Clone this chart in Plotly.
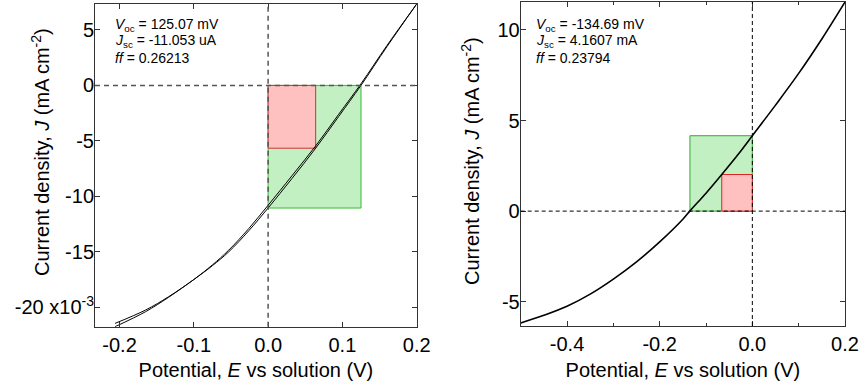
import plotly.graph_objects as go

# ---- Left panel data (potential V, current density mA cm^-2, shown as x10^-3 A) ----
left_E = [-0.206, -0.165, -0.134, -0.100, -0.075, -0.053, -0.026, 0.000, 0.032, 0.064, 0.095, 0.125, 0.160, 0.200]
left_J_scan1 = [-21.75, -20.40, -19.10, -17.50, -16.25, -15.00, -13.10, -11.05, -8.40, -5.66, -2.80, 0.00, 3.50, 7.34]
left_J_scan2 = [-21.45, -20.25, -19.05, -17.50, -16.18, -14.85, -12.90, -10.80, -8.15, -5.45, -2.60, 0.15, 3.60, 7.34]
left_Voc = 0.12507
left_Jsc = -11.053
left_Vmp = 0.064
left_Jmp = -5.66

# ---- Right panel data ----
right_E = [-0.500, -0.450, -0.400, -0.350, -0.300, -0.250, -0.200, -0.150, -0.135, -0.100, -0.066, -0.030, 0.000, 0.050, 0.100, 0.150, 0.200]
right_J = [-6.17, -5.75, -5.25, -4.58, -3.75, -2.80, -1.70, -0.45, 0.00, 0.99, 2.02, 3.15, 4.16, 5.85, 7.60, 9.50, 11.54]
right_Voc = -0.13469
right_Jsc = 4.1607
right_Vmp = -0.066
right_Jmp = 2.02

left_ytickvals = [5, 0, -5, -10, -15, -20]
left_yticktext = ["5", "0", "-5", "-10", "-15", "-20 x10<sup>-3</sup>"]
left_xtickvals = [-0.2, -0.1, 0.0, 0.1, 0.2]
left_xticktext = ["-0.2", "-0.1", "0.0", "0.1", "0.2"]
right_xtickvals = [-0.4, -0.2, 0.0, 0.2]
right_xticktext = ["-0.4", "-0.2", "0.0", "0.2"]
right_ytickvals = [10, 5, 0, -5]
right_yticktext = ["10", "5", "0", "-5"]

left_text = ["<i>V</i><sub>oc</sub> = 125.07 mV", "<i>J</i><sub>sc</sub> = -11.053 uA", "<i>ff</i> = 0.26213"]
right_text = ["<i>V</i><sub>oc</sub> = -134.69 mV", "<i>J</i><sub>sc</sub> = 4.1607 mA", "<i>ff</i> = 0.23794"]

xtitle = "Potential, <i>E</i> vs solution (V)"
ytitle = "Current density, <i>J</i> (mA cm<sup>-2</sup>)"

W, H = 860, 389
ML, MR, MT, MB = 95, 15, 1, 62
PW, PH = W - ML - MR, H - MT - MB
FONT = "Liberation Sans, Arial, sans-serif"
AX = "#333333"

def dx(p):  # page pixel x -> plot-area fraction
    return (p - ML) / PW

def dy(p):  # page pixel y -> plot-area fraction
    return 1 - (p - MT) / PH

fig = go.Figure()

fig.add_trace(go.Scatter(x=left_E, y=left_J_scan1, mode="lines", line=dict(color="black", width=1, shape="spline", smoothing=1.0), xaxis="x", yaxis="y", showlegend=False))
fig.add_trace(go.Scatter(x=left_E, y=left_J_scan2, mode="lines", line=dict(color="black", width=1, shape="spline", smoothing=1.0), xaxis="x", yaxis="y", showlegend=False))
fig.add_trace(go.Scatter(x=right_E, y=right_J, mode="lines", line=dict(color="black", width=1.6, shape="spline", smoothing=1.0), xaxis="x2", yaxis="y2", showlegend=False))

common_axis = dict(showgrid=False, zeroline=False, showline=True, linecolor=AX, linewidth=1,
                   mirror="ticks", ticks="inside", ticklen=5, tickcolor=AX, tickwidth=1,
                   automargin=False,
                   tickfont=dict(size=20, family=FONT, color="black"))

fig.update_layout(
    width=W, height=H, margin=dict(l=ML, r=MR, t=MT, b=MB),
    paper_bgcolor="white", plot_bgcolor="white",
    font=dict(family=FONT, color="black"),
    xaxis=dict(domain=[dx(95), dx(416.7)], range=[-0.233, 0.2], anchor="y",
               tickvals=left_xtickvals, ticktext=left_xticktext,
               title=dict(text=xtitle, font=dict(size=20, family=FONT), standoff=8),
               **common_axis),
    yaxis=dict(domain=[dy(326.7), dy(4)], range=[-21.75, 7.34], anchor="x",
               tickvals=left_ytickvals, ticktext=left_yticktext, ticklabelstandoff=-4,
               **common_axis),
    xaxis2=dict(domain=[dx(520.7), dx(845)], range=[-0.5, 0.2], anchor="y2",
                tickvals=right_xtickvals, ticktext=right_xticktext,
                minor=dict(dtick=0.1, tick0=0, ticks="inside", ticklen=3, tickcolor=AX, showgrid=False),
                title=dict(text=xtitle, font=dict(size=20, family=FONT), standoff=8),
                **common_axis),
    yaxis2=dict(domain=[dy(326), dy(2)], range=[-6.34, 11.54], anchor="x2",
                tickvals=right_ytickvals, ticktext=right_yticktext, ticklabelstandoff=-4,
                **common_axis),
)

shapes = []
shapes.append(dict(type="rect", xref="x", yref="y", x0=0, x1=left_Voc, y0=0, y1=left_Jsc,
                   fillcolor="#c2f0c2", line=dict(color="#33bb33", width=1), layer="below"))
shapes.append(dict(type="rect", xref="x", yref="y", x0=0, x1=left_Vmp, y0=0, y1=left_Jmp,
                   fillcolor="#ffc0c0", line=dict(color="#cc3333", width=1), layer="below"))
shapes.append(dict(type="line", xref="x", yref="y domain", x0=0, x1=0, y0=0, y1=1,
                   line=dict(color="#555555", width=1.5, dash="5px,4px")))
shapes.append(dict(type="line", xref="x domain", yref="y", x0=0, x1=1, y0=0, y1=0,
                   line=dict(color="#555555", width=1.5, dash="5px,4px")))
shapes.append(dict(type="rect", xref="x2", yref="y2", x0=right_Voc, x1=0, y0=0, y1=right_Jsc,
                   fillcolor="#c2f0c2", line=dict(color="#33aa33", width=1), layer="below"))
shapes.append(dict(type="rect", xref="x2", yref="y2", x0=right_Vmp, x1=0, y0=0, y1=right_Jmp,
                   fillcolor="#ffc0c0", line=dict(color="#dd2222", width=1), layer="below"))
shapes.append(dict(type="line", xref="x2", yref="y2 domain", x0=0, x1=0, y0=0, y1=1,
                   line=dict(color="black", width=1, dash="4px,3px")))
shapes.append(dict(type="line", xref="x2 domain", yref="y2", x0=0, x1=1, y0=0, y1=0,
                   line=dict(color="black", width=1, dash="4px,3px")))
fig.update_layout(shapes=shapes)

annotations = []
for i, t in enumerate(left_text):
    annotations.append(dict(text=t, xref="paper", yref="paper", x=dx(113), y=dy(25 + i * 16.3),
                            xanchor="left", yanchor="middle", showarrow=False,
                            font=dict(size=14, family=FONT, color="black")))
for i, t in enumerate(right_text):
    annotations.append(dict(text=t, xref="paper", yref="paper", x=dx(534), y=dy(25 + i * 16.3),
                            xanchor="left", yanchor="middle", showarrow=False,
                            font=dict(size=14, family=FONT, color="black")))
# y-axis titles
annotations.append(dict(text=ytitle, textangle=-90, xref="paper", yref="paper", x=dx(40), y=dy(152),
                        xanchor="center", yanchor="middle", showarrow=False,
                        font=dict(size=20, family=FONT, color="black")))
annotations.append(dict(text=ytitle, textangle=-90, xref="paper", yref="paper", x=dx(470), y=dy(161),
                        xanchor="center", yanchor="middle", showarrow=False,
                        font=dict(size=20, family=FONT, color="black")))
fig.update_layout(annotations=annotations)

fig.write_html("out.html", config={"displayModeBar": False},
               post_script="document.body.style.margin='0px';")
